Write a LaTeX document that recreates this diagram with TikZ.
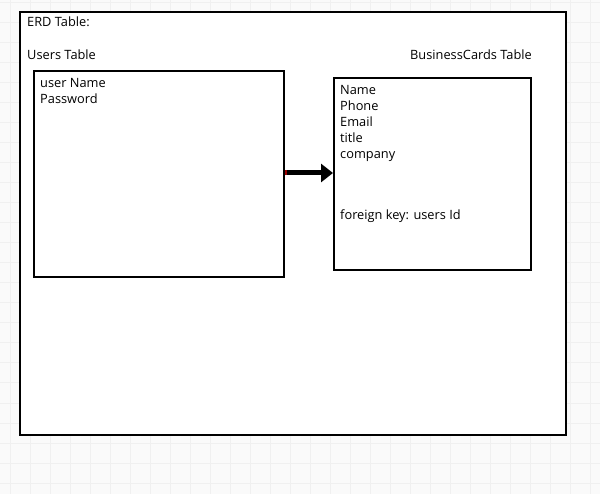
\documentclass[tikz,border=0pt]{standalone}
\usepackage{fontspec}
\setmainfont{Open Sans}
\usetikzlibrary{arrows.meta}
\begin{document}
\begin{tikzpicture}[x=1pt,y=-1pt,
  frame/.style={draw=black,line width=2pt,fill=white},
  lbl/.style={anchor=west,inner sep=0pt,font=\fontsize{12.8}{15}\selectfont},
  field/.style={anchor=north west,inner sep=0pt,align=left,font=\fontsize{12.8}{16}\selectfont}]
\useasboundingbox (0,0) rectangle (600,494);
\fill[white!98!black] (0,0) rectangle (600,494);
\foreach \x in {10,30,...,590} \draw[black!6,line width=1pt] (\x,0) -- (\x,494);
\foreach \y in {3,23,...,493} \draw[black!6,line width=1pt] (0,\y) -- (600,\y);
\draw[frame] (20,12) rectangle (566,435);
\node[lbl] (erd) at (27,22) {ERD Table:};
\node[lbl] (ut) at (27,55) {Users Table};
\node[lbl] (bt) at (410,55) {BusinessCards Table};
\node[frame,minimum width=250,minimum height=206,anchor=north west,inner sep=0pt] (users) at (33,70) {};
\node[frame,minimum width=197,minimum height=192,anchor=north west,inner sep=0pt] (cards) at (333,77) {};
\node[field] (uf) at (40,78) {user Name\\Password};
\node[field] (cf) at (340,85) {Name\\Phone\\Email\\title\\company};
\node[field] (fk) at (340,210) {foreign key: users Id};
\coordinate (as) at (users.east |- 0,173);
\coordinate (ae) at (cards.west |- 0,173);
\draw[black,line width=5pt,-{Triangle[length=12pt,width=18pt]}] (as) -- (ae);
\draw[red!60!black,line width=2pt] ([xshift=1pt,yshift=-2.5pt]as) -- ([xshift=1pt,yshift=2.5pt]as);
\end{tikzpicture}
\end{document}
